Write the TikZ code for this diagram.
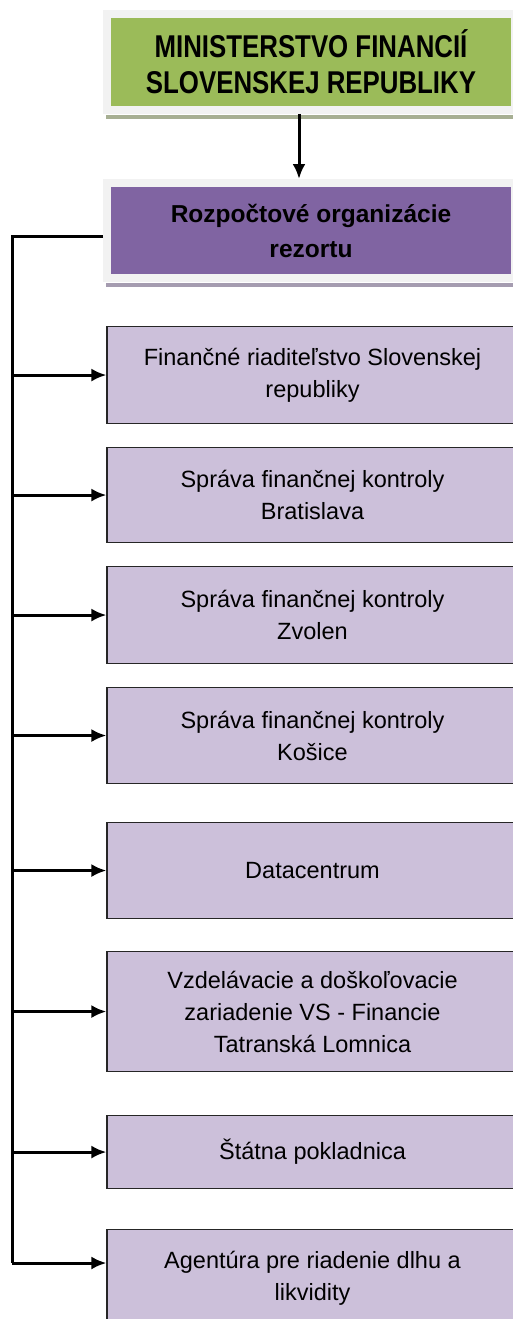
\documentclass[tikz,border=0pt]{standalone}
\usepackage{fontspec}
\setmainfont{Liberation Sans}
\newfontfamily\narrowfont[FakeStretch=0.82]{Liberation Sans}
\usetikzlibrary{positioning,arrows.meta}

\definecolor{mfgreen}{HTML}{9BBB59}
\definecolor{mfpurple}{HTML}{8064A2}
\definecolor{unitfill}{HTML}{CCC0DA}
\definecolor{framegrey}{HTML}{F2F2F2}
\definecolor{greenshade}{HTML}{A7AF93}
\definecolor{purpleshade}{HTML}{A59CB0}

\tikzset{
  headbox/.style={draw=framegrey, line width=8pt, minimum width=408pt, inner sep=0pt, align=center},
  unit/.style={draw=black!85, line width=1.1pt, fill=unitfill, anchor=north, minimum width=411pt, inner sep=0pt, align=center, font=\fontsize{23.5}{32}\selectfont},
  link/.style={line width=3pt},
  arr/.style={line width=3pt, -{Latex[length=15pt,width=13pt]}},
}

\begin{document}
\begin{tikzpicture}[x=1pt,y=-1pt]
\useasboundingbox (0,0) rectangle (513,1319);

% ministry and the budget organisations
\fill[greenshade] (106,115) rectangle (525,119);
\node[headbox, fill=mfgreen, minimum height=96pt, font=\narrowfont\bfseries\fontsize{31.5}{36}\selectfont] (ministry) at (311,62) {MINISTERSTVO FINANCIÍ\\SLOVENSKEJ REPUBLIKY};
\fill[purpleshade] (106,283) rectangle (525,287);
\node[headbox, fill=mfpurple, minimum height=95pt, font=\bfseries\fontsize{24.5}{35}\selectfont] (budget) at (311,230.5) {Rozpočtové organizácie\\rezortu};
\draw[arr] ([xshift=-12pt]ministry.south) -- ([xshift=-12pt]budget.north);

% units of the ministry
\node[unit, minimum height=97pt] (fr) at (312.5,326) {Finančné riaditeľstvo Slovenskej\\republiky};
\node[unit, minimum height=95pt] (sfkba) at (312.5,447) {Správa finančnej kontroly\\Bratislava};
\node[unit, minimum height=97pt] (sfkzv) at (312.5,566) {Správa finančnej kontroly\\Zvolen};
\node[unit, minimum height=96pt] (sfkke) at (312.5,687) {Správa finančnej kontroly\\Košice};
\node[unit, minimum height=96pt] (dc) at (312.5,822) {Datacentrum};
\node[unit, minimum height=120pt] (vdz) at (312.5,951) {Vzdelávacie a doškoľovacie\\zariadenie VS - Financie\\Tatranská Lomnica};
\node[unit, minimum height=73pt] (sp) at (312.5,1115) {Štátna pokladnica};
\node[unit, minimum height=97pt] (ardal) at (312.5,1229) {Agentúra pre riadenie dlhu a\\likvidity};

% spine on the left
\coordinate (spine) at (12,1263);
\draw[link] ([yshift=-6pt]budget.west) -| (spine);
\draw[arr] (fr.west -| spine) -- (fr.west);
\draw[arr] (sfkba.west -| spine) -- (sfkba.west);
\draw[arr] (sfkzv.west -| spine) -- (sfkzv.west);
\draw[arr] (sfkke.west -| spine) -- (sfkke.west);
\draw[arr] (dc.west -| spine) -- (dc.west);
\draw[arr] (vdz.west -| spine) -- (vdz.west);
\draw[arr] (sp.west -| spine) -- (sp.west);
\draw[arr] (spine) -- (spine -| ardal.west);
\end{tikzpicture}
\end{document}
